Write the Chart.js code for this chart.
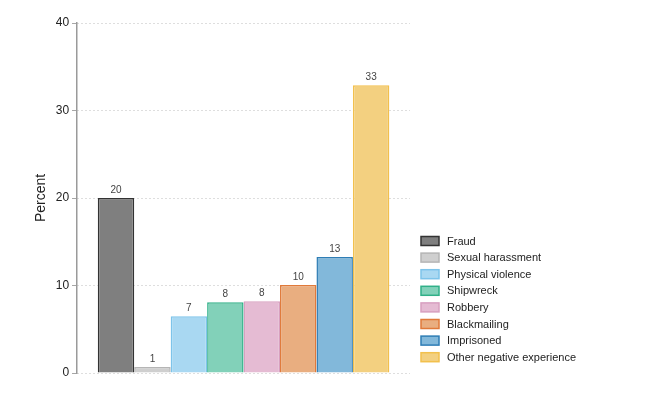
<!DOCTYPE html>
<html>
<head>
<meta charset="utf-8">
<script src="https://cdn.jsdelivr.net/npm/chart.js@4"></script>
<style>
html,body{margin:0;padding:0;background:#fff;}
#wrap{width:651px;height:397px;}
</style>
</head>
<body>
<div id="wrap"><canvas id="c" width="651" height="397"></canvas></div>
<script>
const categories = ["Fraud","Sexual harassment","Physical violence","Shipwreck","Robbery","Blackmailing","Imprisoned","Other negative experience"];
const values = [20.0, 0.7, 6.5, 8.1, 8.2, 10.05, 13.25, 32.9];
const yTicks = [0, 10, 20, 30, 40];
const fillColors = ["#7f7f7f","#cfcfcf","#a9d8f2","#82d1b9","#e5bbd3","#e9ae80","#82b8da","#f3d080"];
const borderColors = ["#333333","#b5b5b5","#7ec4ea","#30b088","#d8a0c0","#e07a3a","#2e7db5","#f2c04d"];

const FONT = '"Liberation Sans", Arial, sans-serif';

const valueLabels = {
  id: 'valueLabels',
  afterDatasetsDraw(chart) {
    const ctx = chart.ctx;
    ctx.save();
    ctx.font = '10px ' + FONT;
    ctx.fillStyle = '#444';
    ctx.textAlign = 'center';
    ctx.textBaseline = 'bottom';
    chart.data.datasets.forEach((ds, i) => {
      const meta = chart.getDatasetMeta(i);
      meta.data.forEach((bar, j) => {
        ctx.fillText(String(Math.round(ds.data[j])), bar.x, bar.y - 3);
      });
    });
    ctx.restore();
  }
};

const sideLegend = {
  id: 'sideLegend',
  afterDraw(chart) {
    const ctx = chart.ctx;
    const area = chart.chartArea;
    const x0 = area.right + 11;
    const yStart = 241;
    const step = 16.6;
    ctx.save();
    ctx.font = '11px ' + FONT;
    ctx.textAlign = 'left';
    ctx.textBaseline = 'middle';
    chart.data.datasets.forEach((ds, i) => {
      const cy = yStart + i * step;
      ctx.fillStyle = ds.backgroundColor;
      ctx.fillRect(x0, cy - 4.5, 18, 9);
      ctx.strokeStyle = ds.borderColor;
      ctx.lineWidth = 1.5;
      ctx.strokeRect(x0, cy - 4.5, 18, 9);
      ctx.fillStyle = '#222';
      ctx.fillText(ds.label, x0 + 26, cy + 0.5);
    });
    ctx.restore();
  }
};

new Chart(document.getElementById('c'), {
  type: 'bar',
  data: {
    labels: [''],
    datasets: categories.map((name, i) => ({
      label: name,
      data: [values[i]],
      backgroundColor: fillColors[i],
      borderColor: borderColors[i],
      borderWidth: 1.5,
      categoryPercentage: 0.876,
      barPercentage: 1.0
    }))
  },
  options: {
    responsive: false,
    animation: false,
    layout: { padding: { top: 23, right: 241, bottom: 24, left: 30 } },
    plugins: {
      tooltip: { enabled: false },
      legend: { display: false }
    },
    scales: {
      x: { display: false, offset: true },
      y: {
        min: yTicks[0],
        max: yTicks[yTicks.length - 1],
        border: { display: true, color: '#9a9a9a', width: 1.5, dash: [1, 3] },
        grid: {
          color: '#bdbdbd',
          lineWidth: 1,
          tickLength: 5,
          tickColor: '#9a9a9a',
          tickBorderDash: [1, 0],
          drawTicks: true
        },
        ticks: {
          stepSize: yTicks[1] - yTicks[0],
          color: '#222',
          padding: 3,
          font: { size: 12, family: FONT }
        },
        title: {
          display: true,
          text: 'Percent',
          color: '#222',
          padding: { top: 3, bottom: 3 },
          font: { size: 14, family: FONT }
        }
      }
    }
  },
  plugins: [valueLabels, sideLegend]
});
</script>
</body>
</html>
